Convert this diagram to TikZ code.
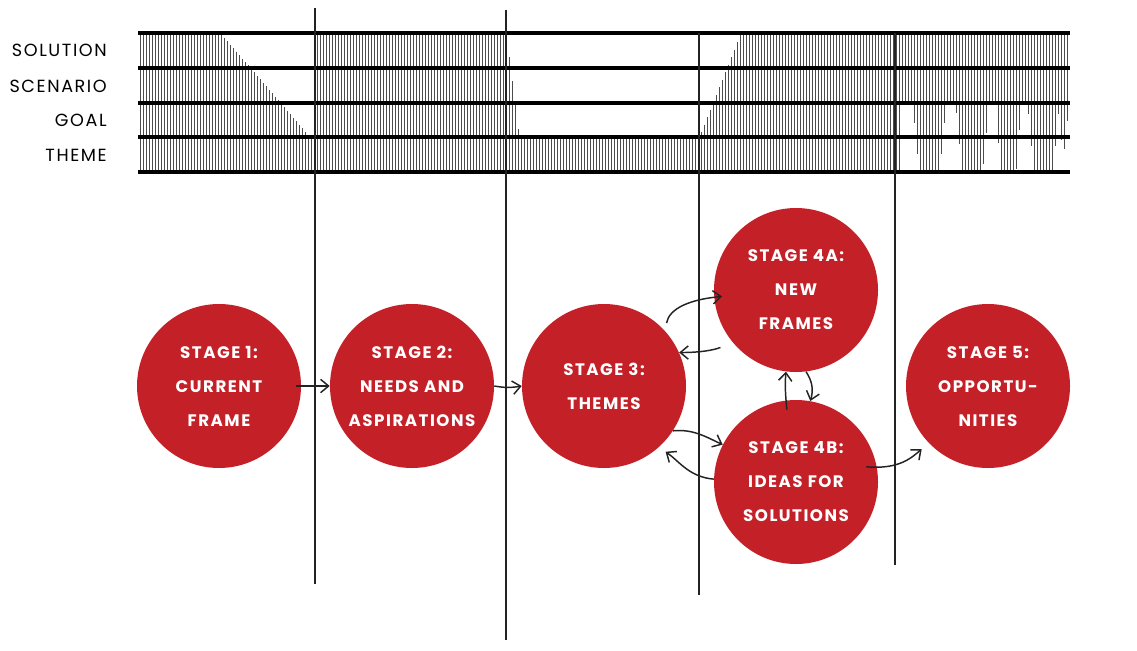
\documentclass[tikz,border=0pt]{standalone}
\usepackage{fontspec}
\setmainfont{Poppins}
\newfontfamily\rowfont{Poppins}[LetterSpace=9]
\newfontfamily\stagefont{Poppins}[LetterSpace=9]
\usepackage{tikz}
\usetikzlibrary{arrows.meta}
\definecolor{StageRed}{RGB}{196,32,40}
\definecolor{InkGrey}{RGB}{35,35,35}

\begin{document}
\begin{tikzpicture}[x=0.75pt,y=-0.75pt,
  stage/.style={circle,fill=StageRed,minimum size=123pt,inner sep=0pt,text=white,
    align=center,font=\stagefont\bfseries\fontsize{12.5}{25.5}\selectfont},
  flow/.style={InkGrey,line width=1.1pt,-{Straight Barb[length=6pt,width=10pt]}},
  rule/.style={line width=2.6pt},
  hatch/.style={black!70,line width=0.75pt},
  divider/.style={InkGrey,line width=1pt}]
\useasboundingbox (0,0) rectangle (1137,650);
% density bars
\foreach \x in {140,143,...,1067}{
  \pgfmathsetmacro\htop{\x<220 ? 33 : (\x<315 ? min(137,33+(\x-220)*1.16) : (\x<506 ? 33 : (\x<699 ? min(137,33+(\x-506)*8) : max(33,137-(\x-699)*2.5))))}
  \pgfmathsetmacro\hbot{\x<902 ? 172 : 103+69*min(1,max(0,2.5*(1-abs(\x-929)/17),2.5*(1-abs(\x-972)/17),2.5*(1-abs(\x-1008)/13),2.5*(1-abs(\x-1043)/16),0.8*(1-abs(\x-1063)/6)))}
  \draw[hatch] (\x,\htop) -- (\x,\hbot);
}
\foreach \y in {33,68,103,137,172}
  \draw[rule] (138,\y) -- (1070,\y);
\foreach \lab/\y in {SOLUTION/50, SCENARIO/86, GOAL/120, THEME/155}
  \node[anchor=east,inner sep=0pt,font=\rowfont\fontsize{13.2}{15}\selectfont] (row-\lab) at (107,\y) {\lab};
% stage dividers
\foreach \x/\a/\b in {315/8/584, 506/10/640, 699/33/595, 895/33/565}
  \draw[divider] (\x,\a) -- (\x,\b);
% stages
\node[stage] (s1) at (219,386) {STAGE 1:\\CURRENT\\FRAME};
\node[stage] (s2) at (412,386) {STAGE 2:\\NEEDS AND\\ASPIRATIONS};
\node[stage] (s3) at (604,386) {STAGE 3:\\THEMES};
\node[stage] (s4a) at (796,290) {STAGE 4A:\\NEW\\FRAMES};
\node[stage] (s4b) at (796,482) {STAGE 4B:\\IDEAS FOR\\SOLUTIONS};
\node[stage] (s5) at (988,386) {STAGE 5:\\OPPORTU-\\NITIES};
% flows
\draw[flow,shorten <=-4pt] (s1.east) -- (s2.west);
\draw[flow] (s2.east) to[bend right=10] (s3.west);
\draw[flow,shorten <=6pt,shorten >=-6pt] (s3.42) to[out=80,in=185] (s4a.185);
\draw[flow,shorten <=10pt] (s4a.220) to[bend left=10] (s3.24);
\draw[flow,shorten <=-7pt] (s4b.97) to[bend left=5] (s4a.263);
\draw[flow] (s4a.-83) to[bend left=25] (s4b.80);
\draw[flow] (s3.-33) to[out=5,in=155] (s4b.153);
\draw[flow,shorten >=6pt] (s4b.178) to[out=175,in=-35] (s3.-48);
\draw[flow,shorten <=-8pt,shorten >=7pt] (s4b.10) to[out=-5,in=220] (s5.224);
\end{tikzpicture}
\end{document}
